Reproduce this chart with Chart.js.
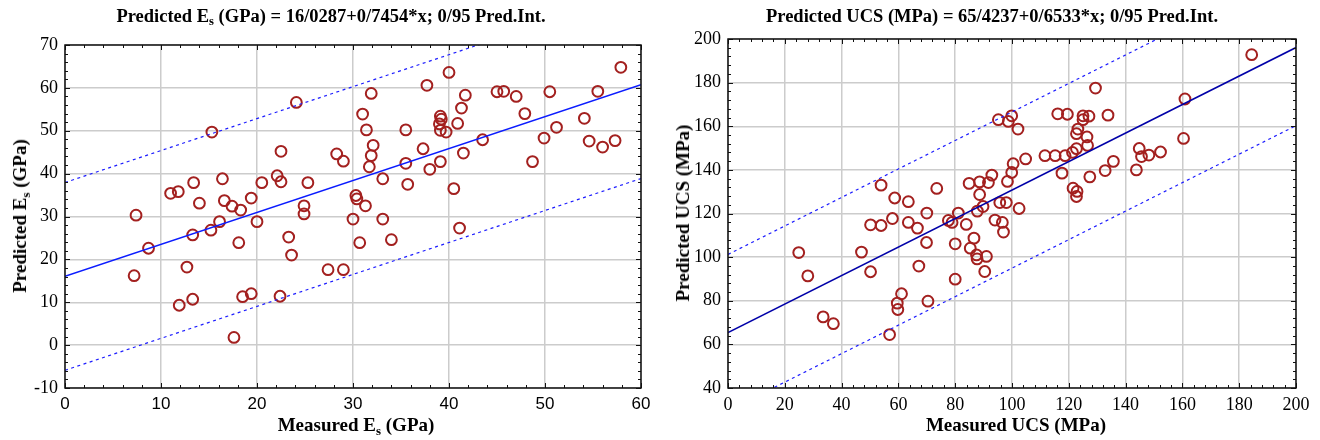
<!DOCTYPE html>
<html>
<head>
<meta charset="utf-8">
<title>Predicted vs measured</title>
<script src="https://cdn.jsdelivr.net/npm/chart.js@4.4.1/dist/chart.umd.min.js"></script>
<style>
  html, body { margin: 0; padding: 0; background: #fff; }
  #wrap { position: relative; width: 1320px; height: 440px; overflow: hidden; }
  .panel { position: absolute; top: 0; width: 660px; height: 440px; }
  .panel canvas { position: absolute; left: 0; top: 0; }
  .ttl {
    position: absolute; white-space: nowrap; color: #000;
    font-family: "Liberation Serif", "Times New Roman", serif; font-weight: bold;
    transform: translate(-50%, -50%);
  }
  .ttl sub { font-size: 68%; vertical-align: -0.3em; line-height: 0; }
  .main { font-size: 18.5px; top: 16px; }
  .xt { font-size: 19px; top: 425px; }
  .yt { font-size: 19px; transform: translate(-50%, -50%) rotate(-90deg); }
</style>
</head>
<body>
<div id="wrap">
  <div class="panel" style="left:0">
    <canvas id="esChart" width="660" height="440"></canvas>
    <div class="ttl main" style="left:331px">Predicted E<sub>s</sub> (GPa) = 16/0287+0/7454*x; 0/95 Pred.Int.</div>
    <div class="ttl xt" style="left:356px">Measured E<sub>s</sub> (GPa)</div>
    <div class="ttl yt" style="left:20px; top:216px">Predicted E<sub>s</sub> (GPa)</div>
  </div>
  <div class="panel" style="left:660px">
    <canvas id="ucsChart" width="660" height="440"></canvas>
    <div class="ttl main" style="left:332px">Predicted UCS (MPa) = 65/4237+0/6533*x; 0/95 Pred.Int.</div>
    <div class="ttl xt" style="left:356px">Measured UCS (MPa)</div>
    <div class="ttl yt" style="left:23px; top:213px">Predicted UCS (MPa)</div>
  </div>
</div>
<script>
// Es (GPa): measured vs predicted
const esMeasured = [7.4, 7.2, 8.7, 11.0, 11.8, 11.9, 12.7, 13.3, 13.3, 13.4, 14.0, 15.2, 15.3, 16.1, 16.4,
  16.6, 17.4, 17.6, 18.1, 18.3, 18.5, 19.4, 19.4, 20.0, 20.5, 22.1, 22.4, 22.5, 22.5, 23.3, 23.6, 24.1,
  24.9, 24.9, 25.3, 27.4, 28.3, 29.0, 29.0, 30.0, 30.3, 30.4, 30.7, 31.0, 31.3, 31.4, 31.7, 31.9, 31.9,
  32.1, 33.1, 33.1, 34.0, 35.5, 35.5, 35.7, 37.3, 37.7, 38.0, 39.1, 39.2, 39.0, 39.1, 39.7, 39.1, 40.0,
  40.5, 40.9, 41.1, 41.3, 41.5, 41.7, 43.5, 45.0, 45.7, 47.0, 47.9, 48.7, 49.9, 50.5, 51.2, 54.1, 54.6,
  55.5, 56.0, 57.3, 57.9];
const esPredicted = [30.3, 16.2, 22.6, 35.4, 35.8, 9.3, 18.2, 25.7, 10.7, 37.9, 33.1, 26.8, 49.7, 28.8, 38.8,
  33.7, 32.4, 1.8, 23.9, 31.5, 11.3, 34.3, 12.0, 28.8, 37.9, 39.5, 11.4, 45.2, 38.1, 25.2, 21.0, 56.6,
  32.5, 30.6, 37.9, 17.6, 44.6, 42.9, 17.6, 29.4, 34.9, 34.1, 23.9, 53.9, 32.5, 50.2, 41.6, 58.7, 44.2,
  46.6, 29.4, 38.8, 24.6, 50.2, 42.4, 37.5, 45.8, 60.6, 41.0, 53.4, 52.7, 51.6, 50.1, 49.7, 42.8, 63.6,
  36.5, 51.7, 27.3, 55.3, 44.8, 58.3, 47.9, 59.1, 59.2, 58.0, 54.0, 42.8, 48.3, 59.1, 50.8, 52.9, 47.6,
  59.2, 46.2, 47.7, 64.8];

// UCS (MPa): measured vs predicted
const ucsMeasured = [24.9, 28.1, 33.5, 37.1, 47.0, 50.2, 50.2, 53.9, 53.9, 56.9, 57.9, 58.7, 59.6, 59.8,
  61.1, 63.5, 63.5, 66.7, 67.2, 69.9, 70.0, 70.4, 73.5, 77.6, 78.9, 80.0, 80.0, 81.1, 83.9, 84.9, 85.3,
  86.6, 87.5, 87.7, 87.8, 88.6, 88.6, 89.8, 90.4, 91.0, 91.7, 92.9, 94.0, 95.2, 95.7, 96.6, 97.0, 98.0,
  98.4, 98.7, 99.9, 99.9, 100.4, 102.1, 102.5, 104.8, 111.6, 115.2, 116.1, 117.6, 118.7, 119.5, 121.3,
  121.5, 122.7, 122.7, 122.7, 122.9, 123.2, 125.0, 125.0, 126.4, 126.6, 127.1, 127.4, 129.4, 132.8,
  133.8, 135.7, 143.8, 144.8, 145.6, 148.2, 152.3, 160.4, 160.9, 184.4];
const ucsPredicted = [102.1, 91.4, 72.6, 69.5, 102.3, 114.8, 93.3, 133.0, 114.5, 64.5, 117.7, 127.1, 78.9,
  76.0, 83.2, 125.4, 115.9, 113.3, 95.9, 106.7, 120.2, 79.8, 131.5, 116.8, 115.9, 106.1, 89.9, 120.2,
  115.0, 133.8, 104.1, 108.7, 101.0, 99.2, 121.1, 134.5, 128.7, 123.2, 93.4, 100.3, 134.2, 137.6, 117.0,
  163.0, 125.0, 115.9, 111.5, 125.0, 134.7, 162.2, 164.8, 138.8, 142.8, 158.7, 122.3, 145.0, 146.5,
  146.5, 165.7, 138.5, 146.5, 165.5, 148.0, 131.6, 149.7, 156.6, 127.8, 130.1, 158.7, 164.8, 163.0,
  155.1, 151.2, 164.6, 136.8, 177.5, 139.7, 165.1, 143.9, 140.0, 149.8, 146.1, 146.8, 148.2, 154.4,
  172.5, 192.8];

// regression coefficients and 0.95 prediction half-widths
const esFit = { a: 16.0287, b: 0.7454, band: 21.9 };
const ucsFit = { a: 65.4237, b: 0.6533, band: 35.8 };

const RED = '#a3201f';
const GRID = 'rgb(204,204,204)';

// inward tick marks on all four sides plus the black frame
const frameTicks = {
  id: 'frameTicks',
  afterDraw(chart, args, o) {
    const { ctx, chartArea: a, scales: { x, y } } = chart;
    ctx.save();
    ctx.strokeStyle = '#111';
    ctx.lineWidth = 1;
    ctx.beginPath();
    for (let i = 0, v = x.min; v <= x.max + 1e-9; i++, v = x.min + i * o.xMinor) {
      const px = Math.round(x.getPixelForValue(v)) + 0.5;
      const len = i % o.perMajor === 0 ? 5 : 3;
      ctx.moveTo(px, a.bottom); ctx.lineTo(px, a.bottom - len);
      ctx.moveTo(px, a.top); ctx.lineTo(px, a.top + len);
    }
    for (let i = 0, v = y.min; v <= y.max + 1e-9; i++, v = y.min + i * o.yMinor) {
      const py = Math.round(y.getPixelForValue(v)) + 0.5;
      const len = i % o.perMajor === 0 ? 5 : 3;
      ctx.moveTo(a.left, py); ctx.lineTo(a.left + len, py);
      ctx.moveTo(a.right, py); ctx.lineTo(a.right - len, py);
    }
    ctx.stroke();
    ctx.lineWidth = 1.5;
    ctx.strokeRect(a.left, a.top, a.right - a.left, a.bottom - a.top);
    ctx.restore();
  }
};

function lineAt(fit, offset, x0, x1) {
  return [x0, x1].map(x => ({ x, y: fit.a + fit.b * x + offset }));
}

function makeChart(id, o) {
  const pts = o.xs.map((x, i) => ({ x, y: o.ys[i] }));
  const dashed = { showLine: true, borderColor: '#1d1dff', borderWidth: 1.2, borderDash: [3, 3.5], pointRadius: 0 };
  return new Chart(document.getElementById(id), {
    type: 'scatter',
    data: {
      datasets: [
        { data: lineAt(o.fit, 0, o.x.min, o.x.max), showLine: true, borderColor: o.lineColor, borderWidth: 1.5, pointRadius: 0 },
        { data: lineAt(o.fit, o.fit.band, o.x.min, o.x.max), ...dashed },
        { data: lineAt(o.fit, -o.fit.band, o.x.min, o.x.max), ...dashed },
        { data: pts, pointRadius: 5.4, borderWidth: 2, borderColor: RED, backgroundColor: 'rgba(0,0,0,0)' }
      ]
    },
    options: {
      responsive: false,
      animation: false,
      devicePixelRatio: 1,
      events: [],
      layout: { padding: o.padding },
      plugins: { legend: { display: false }, tooltip: { enabled: false }, frameTicks: o.ticks },
      scales: {
        x: {
          min: o.x.min, max: o.x.max,
          afterFit: s => { s.height = 52; },
          grid: { color: GRID, lineWidth: 1.5, drawTicks: false },
          border: { display: false },
          ticks: { stepSize: o.x.step, padding: 6, color: '#000', font: o.xFont }
        },
        y: {
          min: o.y.min, max: o.y.max,
          afterFit: s => { s.width = o.yWidth; },
          grid: { color: GRID, lineWidth: 1.5, drawTicks: false },
          border: { display: false },
          ticks: { stepSize: o.y.step, padding: 7, color: '#000', font: o.yFont }
        }
      }
    },
    plugins: [frameTicks]
  });
}

const serif = { family: '"Liberation Serif", "Times New Roman", serif', size: 18 };
const sans = { family: '"Liberation Sans", Arial, sans-serif', size: 17 };

makeChart('esChart', {
  xs: esMeasured, ys: esPredicted, fit: esFit, lineColor: '#0b1cff',
  x: { min: 0, max: 60, step: 10 }, y: { min: -10, max: 70, step: 10 },
  padding: { left: 0, right: 19, top: 45, bottom: 0 }, yWidth: 65,
  xFont: sans, yFont: serif,
  ticks: { xMinor: 2, yMinor: 2, perMajor: 5 }
});

makeChart('ucsChart', {
  xs: ucsMeasured, ys: ucsPredicted, fit: ucsFit, lineColor: '#0000a8',
  x: { min: 0, max: 200, step: 20 }, y: { min: 40, max: 200, step: 20 },
  padding: { left: 0, right: 24, top: 39, bottom: 0 }, yWidth: 68,
  xFont: serif, yFont: serif,
  ticks: { xMinor: 4, yMinor: 4, perMajor: 5 }
});
</script>
</body>
</html>
